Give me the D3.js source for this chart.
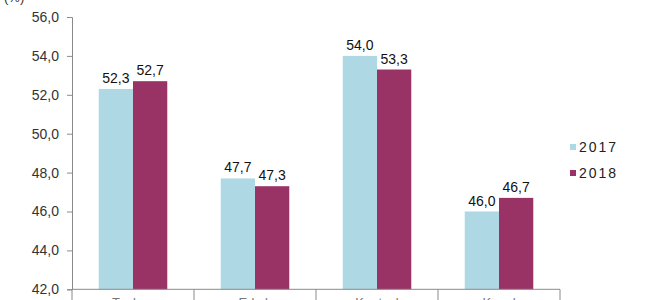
<!DOCTYPE html>
<html>
<head>
<meta charset="utf-8">
<script src="https://cdn.jsdelivr.net/npm/d3@7"></script>
<style>
  body { margin: 0; background: #fff; }
  svg { display: block; font-family: "Liberation Sans", Arial, sans-serif; }
</style>
</head>
<body>
<div id="chart"></div>
<script>
const categories = ["Toplam", "Erkek", "Kentsel", "Kırsal"];
const seriesNames = ["2017", "2018"];
const values2017 = [52.3, 47.7, 54.0, 46.0];
const values2018 = [52.7, 47.3, 53.3, 46.7];
const yTicks = [42, 44, 46, 48, 50, 52, 54, 56];
const colors = ["#aed8e4", "#993366"];

const width = 660, height = 300;
const margin = { top: 17, right: 100, bottom: 10, left: 72 };

const svg = d3.select("#chart").append("svg")
  .attr("width", width)
  .attr("height", height);

const fmt = (v) => v.toFixed(1).replace(".", ",");

const x = d3.scaleBand()
  .domain(categories)
  .range([margin.left, width - margin.right]);

const inner = d3.scaleBand()
  .domain(seriesNames)
  .range([0, x.bandwidth()])
  .paddingOuter(0.78);

const y = d3.scaleLinear()
  .domain([42, 56])
  .range([height - margin.bottom - 0.7, margin.top]);

// bars
const rows = categories.map((c, i) => ({
  cat: c,
  vals: [values2017[i], values2018[i]]
}));

const group = svg.append("g")
  .selectAll("g")
  .data(rows)
  .join("g")
  .attr("transform", (d) => `translate(${x(d.cat)},0)`);

group.selectAll("rect")
  .data((d) => d.vals.map((v, i) => ({ v, s: seriesNames[i], i })))
  .join("rect")
  .attr("x", (d) => inner(d.s))
  .attr("width", inner.bandwidth())
  .attr("y", (d) => y(d.v))
  .attr("height", (d) => y(42) - y(d.v))
  .attr("fill", (d) => colors[d.i]);

group.selectAll("text")
  .data((d) => d.vals.map((v, i) => ({ v, s: seriesNames[i] })))
  .join("text")
  .attr("x", (d) => inner(d.s) + inner.bandwidth() / 2)
  .attr("y", (d) => y(d.v) - 6)
  .attr("text-anchor", "middle")
  .attr("font-size", 14)
  .attr("fill", "#111")
  .text((d) => fmt(d.v));

// y axis
const yAxis = svg.append("g")
  .attr("transform", `translate(${margin.left},0)`)
  .call(d3.axisLeft(y).tickValues(yTicks).tickFormat(fmt).tickSize(5).tickPadding(8));
yAxis.select(".domain").attr("stroke", "#8a8a8a");
yAxis.selectAll(".tick line").attr("stroke", "#8a8a8a");
yAxis.selectAll(".tick text")
  .attr("font-size", 14)
  .attr("font-family", "Liberation Sans, Arial, sans-serif")
  .attr("fill", "#333");

// x axis with category dividers
const xAxis = svg.append("g")
  .attr("transform", `translate(0,${y(42)})`);
xAxis.append("line")
  .attr("x1", margin.left).attr("x2", width - margin.right)
  .attr("stroke", "#8a8a8a");
xAxis.selectAll(".div")
  .data(categories.map((c) => x(c)).concat([width - margin.right]))
  .join("line")
  .attr("class", "div")
  .attr("x1", (d) => d).attr("x2", (d) => d)
  .attr("y1", 0).attr("y2", 14)
  .attr("stroke", "#8a8a8a");
// category names sit below the frame edge, only their tops show (as in the source)
xAxis.selectAll("text")
  .data(categories)
  .join("text")
  .attr("x", (d) => x(d) + x.bandwidth() / 2)
  .attr("y", 18)
  .attr("text-anchor", "middle")
  .attr("font-size", 13)
  .attr("fill", "#777")
  .text((d) => d);

// unit label
svg.append("text")
  .attr("x", 4)
  .attr("y", 2)
  .attr("font-size", 13)
  .attr("fill", "#333")
  .text("(%)");

// legend
const legend = svg.append("g")
  .selectAll("g")
  .data(seriesNames)
  .join("g")
  .attr("transform", (d, i) => `translate(570,${147 + i * 26})`);
legend.append("rect")
  .attr("x", 0).attr("y", -3)
  .attr("width", 6).attr("height", 6)
  .attr("fill", (d, i) => colors[i]);
legend.append("text")
  .attr("x", 9)
  .attr("y", 5)
  .attr("font-size", 14)
  .attr("letter-spacing", 2)
  .attr("fill", "#222")
  .text((d) => d);
</script>
</body>
</html>
